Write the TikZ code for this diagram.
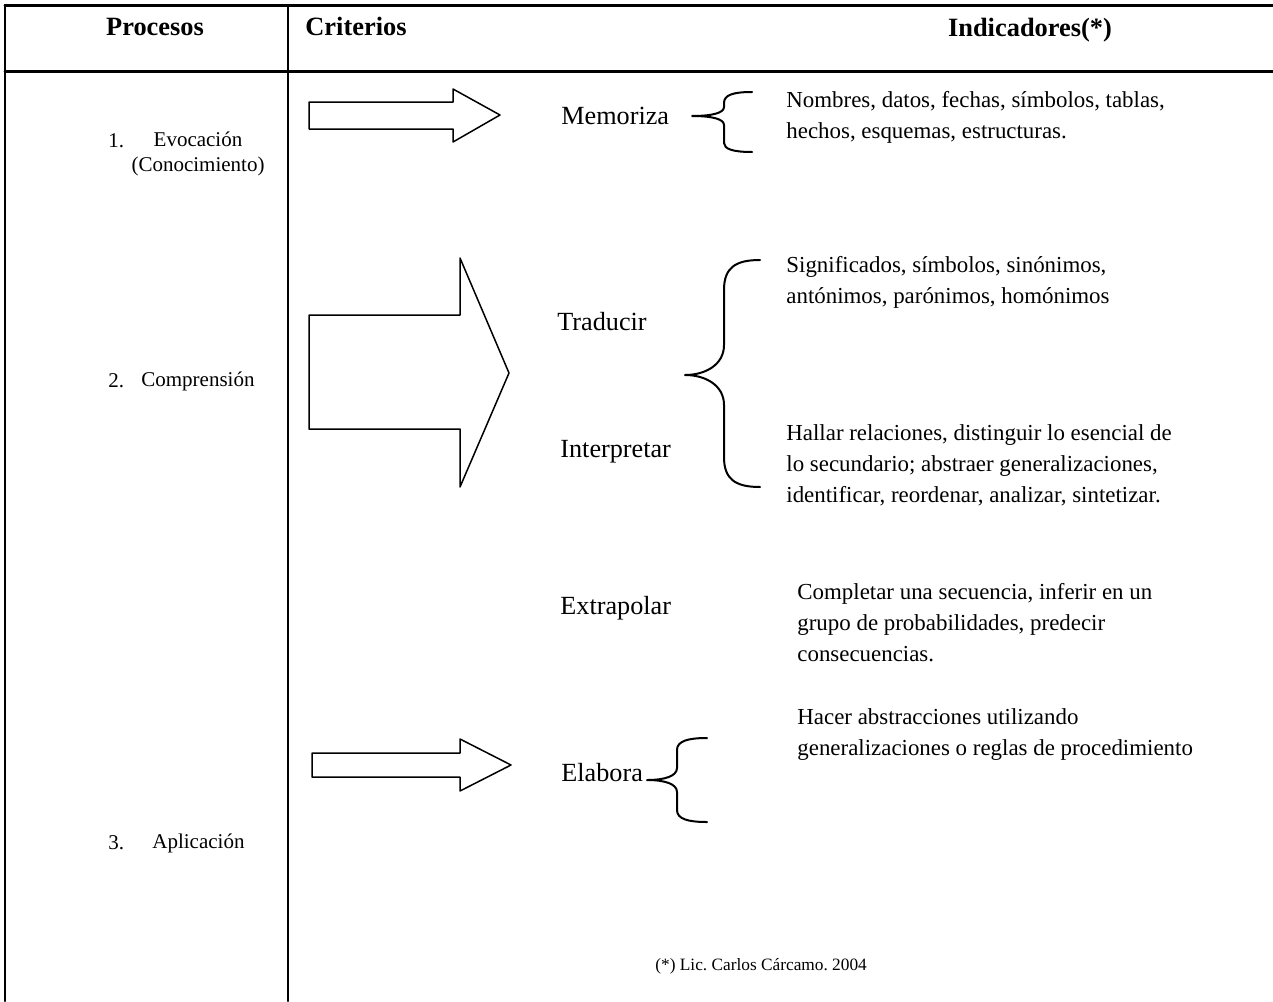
\documentclass[tikz,border=0pt]{standalone}
\usepackage{fontspec}
\setmainfont{Liberation Serif}
\usetikzlibrary{arrows}
\frenchspacing

\begin{document}
\begin{tikzpicture}[line cap=round,line join=round,x=0.5pt,y=-0.5pt,
  head/.style={font=\fontsize{13.2}{16}\selectfont\bfseries,inner sep=0pt},
  proc/.style={font=\fontsize{10.5}{12.5}\selectfont,inner sep=0pt,anchor=west},
  crit/.style={font=\fontsize{13.1}{16}\selectfont,inner sep=0pt,anchor=west},
  ind/.style={font=\fontsize{11.45}{15.5}\selectfont,inner sep=0pt,anchor=west,align=left},
  blockarrow/.style={line width=0.75pt},
  brc/.style={line width=1pt}]
\useasboundingbox (0,0) rectangle (1273,1001);
\draw [line width=1.5pt] (5,5) -- (1273,5);
\draw [line width=1.5pt] (5,71) -- (1273,71);
\draw [line width=1pt] (5,5) -- (5,1001);
\draw [line width=1pt] (288,5) -- (288,1001);
\node[head] (hproc) at (155,27) {Procesos};
\node[head,anchor=west] (hcrit) at (305,26) {Criterios};
\node[head] (hind) at (1030,30) {Indicadores(*)};
\node[proc] (n1) at (108,141) {1.};
\node[proc,anchor=center,align=center] (p1) at (198,154) {Evocación\\(Conocimiento)};
\node[proc] (n2) at (108,381) {2.};
\node[proc] (p2) at (141,381) {Comprensión};
\node[proc] (n3) at (108,843) {3.};
\node[proc] (p3) at (152,843) {Aplicación};
\draw [blockarrow] (309,102) -- (453,102) -- (453,89) -- (500,115) -- (453,142) -- (453,129) -- (309,129) -- cycle;
\draw [blockarrow] (309,315) -- (460,315) -- (460,258) -- (509,373) -- (460,487) -- (460,429) -- (309,429) -- cycle;
\draw [blockarrow] (312,753) -- (460,753) -- (460,739) -- (511,765) -- (460,791) -- (460,777) -- (312,777) -- cycle;
\node[crit] (memo) at (561,116) {Memoriza};
\node[crit] (trad) at (557,322) {Traducir};
\node[crit] (inte) at (560,452) {Interpretar};
\node[crit] (extr) at (560,608) {Extrapolar};
\node[crit] (elab) at (561,773) {Elabora};
\draw [brc] (752,92) .. controls (733,92) and (724,95) .. (724,103) -- (724,107) .. controls (724,113) and (712,116) .. (692,116) .. controls (712,116) and (724,119) .. (724,125) -- (724,143) .. controls (724,149) and (733,152) .. (752,152);
\draw [brc] (760,260) .. controls (735,260) and (724,268) .. (724,290) -- (724,345) .. controls (724,365) and (705,375) .. (685,375) .. controls (705,375) and (724,385) .. (724,405) -- (724,457) .. controls (724,479) and (735,487) .. (760,487);
\draw [brc] (707,738) .. controls (688,738) and (677,741) .. (677,750) -- (677,768) .. controls (677,776) and (665,780) .. (647,780) .. controls (665,780) and (677,784) .. (677,792) -- (677,810) .. controls (677,819) and (688,822) .. (707,822);
\node[ind] (i1) at (786,117.5) {Nombres, datos, fechas, símbolos, tablas,\\hechos, esquemas, estructuras.};
\node[ind] (i2) at (786,282.5) {Significados, símbolos, sinónimos,\\antónimos, parónimos, homónimos};
\node[ind] (i3) at (786,465) {Hallar relaciones, distinguir lo esencial de\\lo secundario; abstraer generalizaciones,\\identificar, reordenar, analizar, sintetizar.};
\node[ind] (i4) at (797,622.5) {Completar una secuencia, inferir en un\\grupo de probabilidades, predecir\\consecuencias.};
\node[ind] (i5) at (797,734.5) {Hacer abstracciones utilizando\\generalizaciones o reglas de procedimiento};
\node[inner sep=0pt,anchor=west,font=\fontsize{8.65}{10}\selectfont] (nota) at (655,966) {(*) Lic. Carlos Cárcamo. 2004};
\end{tikzpicture}
\end{document}
